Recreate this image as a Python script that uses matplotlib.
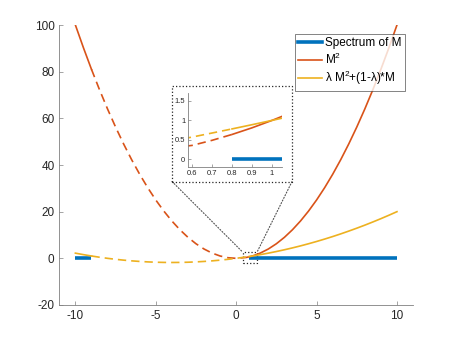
import matplotlib
matplotlib.use("Agg")
import matplotlib.pyplot as plt
from matplotlib.patches import Rectangle, ConnectionPatch

plt.rcParams['font.family'] = ['Liberation Sans', 'DejaVu Sans']
plt.rcParams['axes.unicode_minus'] = False

# sample points
x_vals = [-10, -9.5, -9, -8.5, -8, -7.5, -7, -6.5, -6, -5.5, -5, -4.5, -4, -3.5, -3, -2.5,
          -2, -1.5, -1, -0.5, 0, 0.6, 0.7, 0.8, 0.9, 1, 1.05, 1.5,
          2, 2.5, 3, 3.5, 4, 4.5, 5, 5.5, 6, 6.5, 7, 7.5, 8, 8.5, 9, 9.5, 10]
m2_vals = [100, 90.25, 81, 72.25, 64, 56.25, 49, 42.25, 36, 30.25, 25, 20.25, 16, 12.25, 9, 6.25,
           4, 2.25, 1, 0.25, 0, 0.36, 0.49, 0.64, 0.81, 1, 1.1025, 2.25,
           4, 6.25, 9, 12.25, 16, 20.25, 25, 30.25, 36, 42.25, 49, 56.25, 64, 72.25, 81, 90.25, 100]
mix_vals = [2.22, 1.583, 1.0, 0.472, 0, -0.417, -0.78, -1.083, -1.33, -1.528, -1.67, -1.75, -1.78,
            -1.75, -1.67, -1.528, -1.33, -1.083, -0.78, -0.417, 0, 0.573, 0.677, 0.782,
            0.89, 1.0, 1.056, 1.583, 2.22, 2.917, 3.67, 4.472, 5.33, 6.25, 7.22, 8.25, 9.33,
            10.472, 11.67, 12.917, 14.22, 15.583, 17.0, 18.472, 20.0]

spec_lo = [-10, -9]
spec_hi = [0.8, 10]
spec_zero = [0, 0]

labels = ['Spectrum of M', 'M$^{\\mathregular{2}}$', '\u03bb M$^{\\mathregular{2}}$+(1-\u03bb)*M']

blue = '#0072BD'
orange = '#D95319'
yellow = '#EDB120'
axcol = '#262626'

i_left = x_vals.index(-9)
i_right = x_vals.index(0.8)


def style_axes(ax, size):
    for s in ['top', 'right']:
        ax.spines[s].set_visible(False)
    for s in ['left', 'bottom']:
        ax.spines[s].set_color('#808080')
        ax.spines[s].set_linewidth(0.6)
    ax.tick_params(direction='in', length=3, width=0.5, color='#808080',
                   labelsize=size, labelcolor=axcol)


def draw(ax, lw_spec, lw):
    ax.plot(spec_lo, spec_zero, color=blue, lw=lw_spec, solid_capstyle='butt')
    ax.plot(spec_hi, spec_zero, color=blue, lw=lw_spec, solid_capstyle='butt')
    for vals, c in [(m2_vals, orange), (mix_vals, yellow)]:
        ax.plot(x_vals[:i_left + 1], vals[:i_left + 1], color=c, lw=lw)
        ax.plot(x_vals[i_left:i_right + 1], vals[i_left:i_right + 1], color=c, lw=lw,
                linestyle=(0, (5, 3)))
        ax.plot(x_vals[i_right:], vals[i_right:], color=c, lw=lw)


fig = plt.figure(figsize=(4.57, 3.43), dpi=100)
ax = fig.add_axes([0.1298, 0.1108, 0.774, 0.8163])
draw(ax, 2.6, 1.2)
ax.set_xlim(-11, 11)
ax.set_ylim(-20, 100)
ax.set_xticks([-10, -5, 0, 5, 10])
ax.set_yticks([-20, 0, 20, 40, 60, 80, 100])
style_axes(ax, 8.5)

# legend
hs = [plt.Line2D([], [], color=blue, lw=2.6),
      plt.Line2D([], [], color=orange, lw=1.2),
      plt.Line2D([], [], color=yellow, lw=1.2)]
leg = fig.legend(hs, labels, loc='upper right', bbox_to_anchor=(0.886, 0.902),
                 bbox_transform=fig.transFigure, fontsize=8.5, frameon=True, fancybox=False,
                 borderaxespad=0, handlelength=2.0, handletextpad=0.25, labelspacing=0.2,
                 borderpad=0.3)
leg.get_frame().set_edgecolor('#262626')
leg.get_frame().set_linewidth(0.5)

# small zoom box in the main axes
ax.add_patch(Rectangle((0.4, -2), 0.9, 4.7, fill=False, ls=':', lw=0.9, ec='#262626'))

# dotted frame around the inset
frame = Rectangle((0.3764, 0.4708), 0.2626, 0.2784, transform=fig.transFigure,
                  fill=False, ls=':', lw=0.9, ec='#262626')
fig.patches.append(frame)

for fx, dx in [(0.3764, 0.4), (0.3764 + 0.2626, 1.3)]:
    con = ConnectionPatch(xyA=(fx, 0.4708), coordsA=fig.transFigure,
                          xyB=(dx, 2.7), coordsB=ax.transData,
                          ls=':', lw=0.8, color='#505050')
    fig.add_artist(con)

# inset
axi = fig.add_axes([0.4114, 0.5122, 0.2057, 0.2166])
draw(axi, 2.6, 1.2)
axi.set_xlim(0.58, 1.05)
axi.set_ylim(-0.2, 1.7)
axi.set_xticks([0.6, 0.7, 0.8, 0.9, 1])
axi.set_xticklabels(['0.6', '0.7', '0.8', '0.9', '1'])
axi.set_yticks([0, 0.5, 1, 1.5])
axi.set_yticklabels(['0', '0.5', '1', '1.5'])
style_axes(axi, 5.5)
axi.tick_params(length=2, pad=2)
axi.patch.set_alpha(0)

fig.savefig('out.png', dpi=100)
